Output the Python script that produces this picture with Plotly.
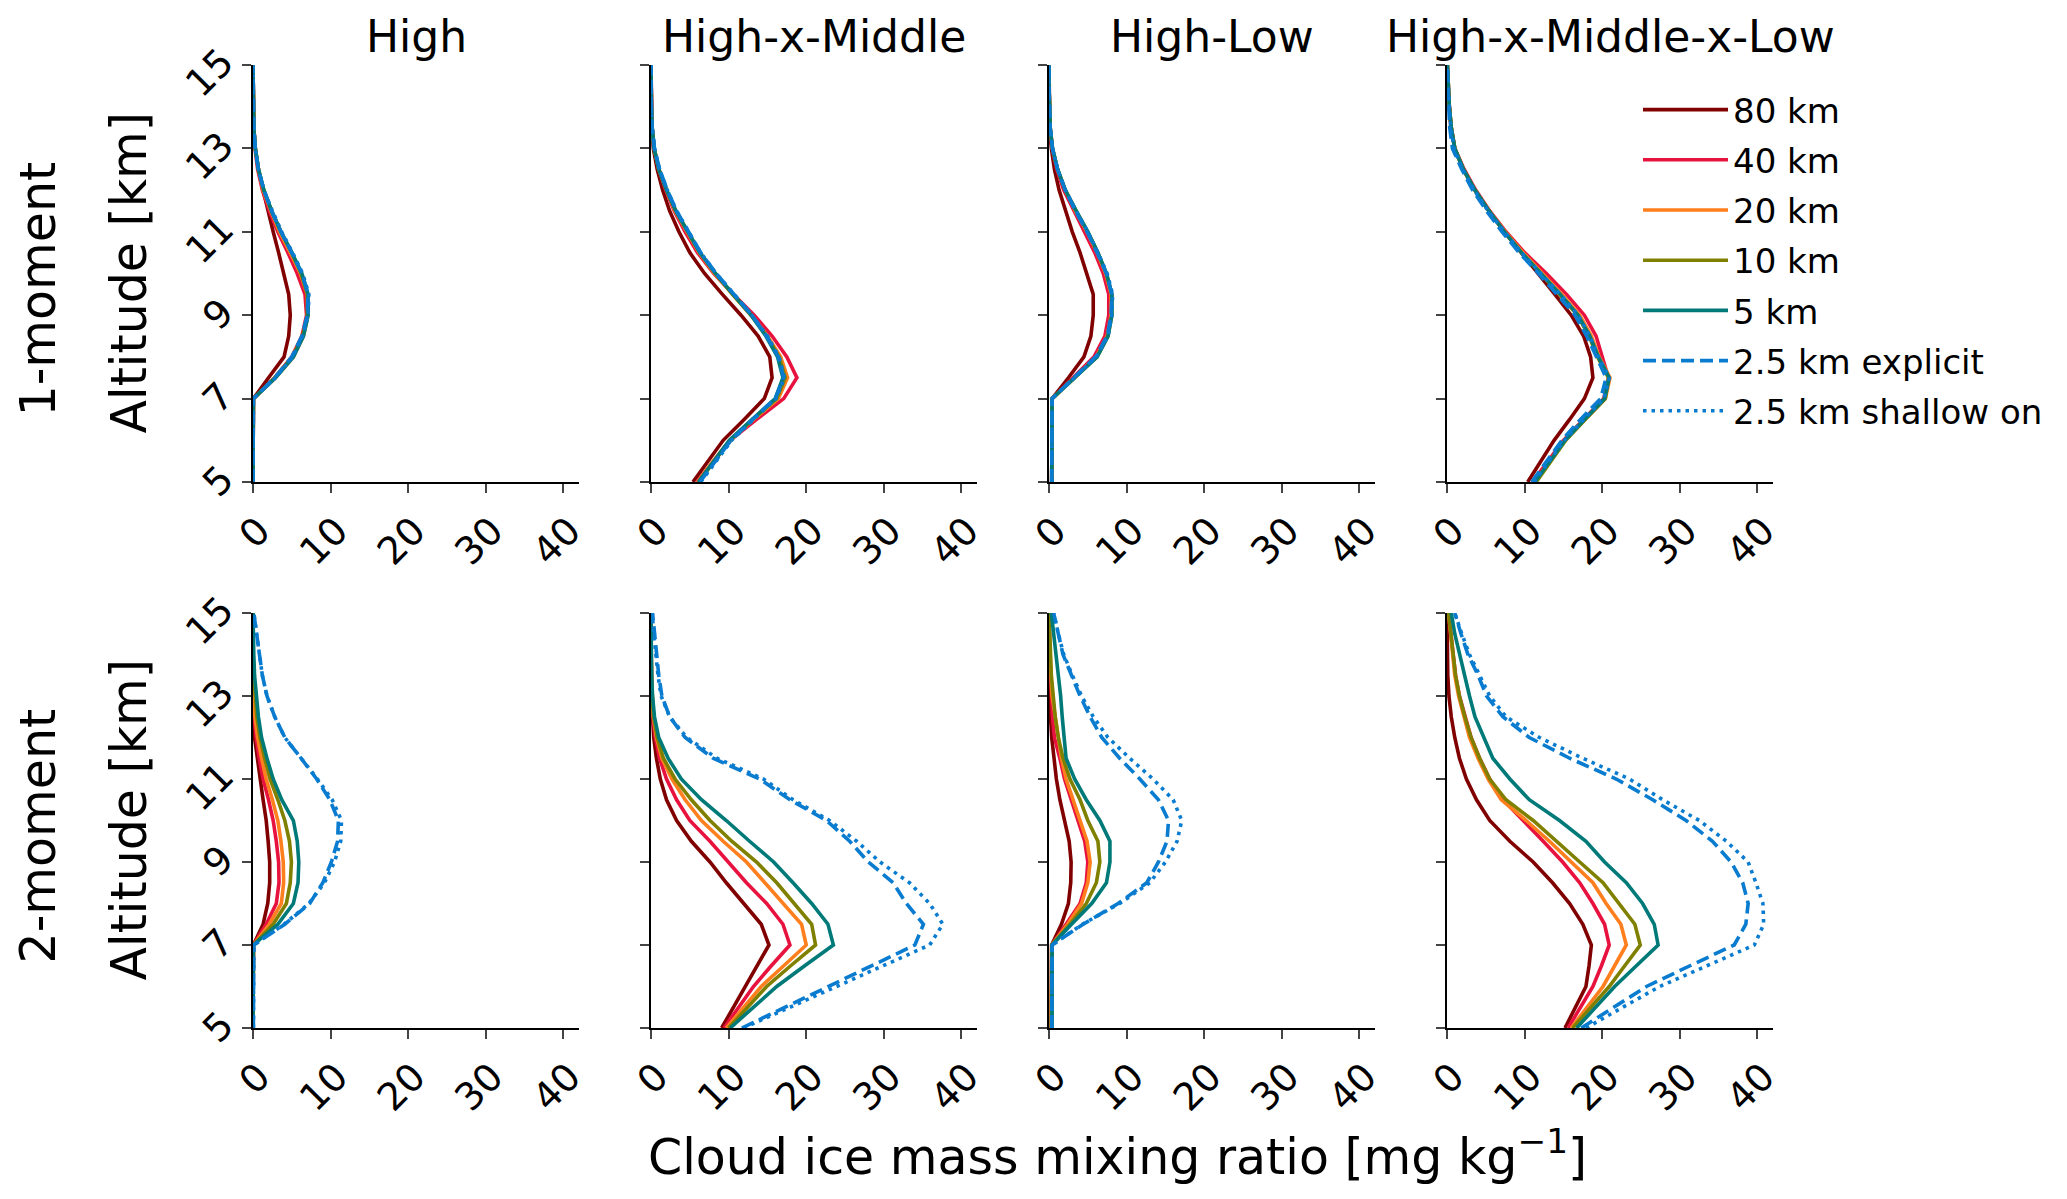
import plotly.graph_objects as go
from plotly.subplots import make_subplots

# altitude levels [km] shared by every profile
ALT = [5.0, 5.5, 6.0, 6.5, 7.0, 7.5, 8.0, 8.5, 9.0, 9.5, 10.0,
       10.5, 11.0, 11.5, 12.0, 12.5, 13.0, 13.5, 14.0, 14.5, 15.0]

SERIES = ["80 km", "40 km", "20 km", "10 km", "5 km", "2.5 km explicit", "2.5 km shallow on"]
COLUMNS = ["High", "High-x-Middle", "High-Low", "High-x-Middle-x-Low"]
ROWS = ["1-moment", "2-moment"]
X_TICKS = [0, 10, 20, 30, 40]
Y_TICKS = [5, 7, 9, 11, 13, 15]

# cloud ice [mg/kg], one list per series (order as SERIES), values at ALT
M1_HIGH = [
    [0, 0, 0, 0, 0.05, 2.0, 4.0, 4.6, 4.8, 4.6, 4.0, 3.3, 2.6, 1.9, 1.3, 0.7, 0.3, 0.1, 0.03, 0, 0],
    [0, 0, 0, 0, 0.05, 2.8, 5.0, 6.3, 6.9, 6.7, 5.7, 4.5, 3.2, 2.1, 1.2, 0.6, 0.25, 0.1, 0.03, 0, 0],
    [0, 0, 0, 0, 0.05, 2.9, 5.2, 6.5, 7.1, 7.0, 6.1, 4.8, 3.4, 2.3, 1.3, 0.7, 0.3, 0.1, 0.03, 0, 0],
    [0, 0, 0, 0, 0.05, 2.8, 5.1, 6.4, 7.0, 7.0, 6.2, 5.0, 3.6, 2.4, 1.4, 0.7, 0.3, 0.1, 0.03, 0, 0],
    [0, 0, 0, 0, 0.05, 2.9, 5.2, 6.5, 7.1, 7.1, 6.3, 5.0, 3.6, 2.4, 1.4, 0.7, 0.3, 0.1, 0.03, 0, 0],
    [0, 0, 0, 0, 0.05, 2.8, 5.0, 6.3, 7.0, 7.1, 6.3, 5.0, 3.6, 2.4, 1.4, 0.7, 0.3, 0.1, 0.03, 0, 0],
    [0, 0, 0, 0, 0.05, 2.9, 5.1, 6.4, 7.1, 7.2, 6.4, 5.1, 3.7, 2.5, 1.4, 0.7, 0.3, 0.1, 0.03, 0, 0],
]
M1_HXM = [
    [5.4, 7.3, 9.3, 12.0, 14.6, 15.6, 15.3, 13.8, 11.6, 9.2, 6.9, 5.0, 3.6, 2.4, 1.5, 0.8, 0.3, 0.12, 0.05, 0.02, 0],
    [5.9, 8.0, 10.2, 13.6, 17.1, 18.8, 17.5, 15.6, 13.3, 10.6, 8.1, 6.0, 4.4, 3.0, 1.9, 1.0, 0.4, 0.15, 0.05, 0.02, 0],
    [6.0, 8.0, 10.2, 13.2, 16.4, 17.6, 16.7, 15.0, 12.9, 10.5, 8.2, 6.2, 4.6, 3.1, 2.0, 1.0, 0.4, 0.15, 0.05, 0.02, 0],
    [6.1, 8.1, 10.2, 13.1, 16.2, 17.3, 16.5, 14.9, 12.9, 10.5, 8.3, 6.3, 4.7, 3.2, 2.0, 1.0, 0.4, 0.15, 0.05, 0.02, 0],
    [6.1, 8.1, 10.1, 13.0, 16.0, 17.0, 16.3, 14.8, 12.9, 10.6, 8.3, 6.3, 4.7, 3.2, 2.0, 1.0, 0.4, 0.15, 0.05, 0.02, 0],
    [6.3, 8.3, 10.3, 13.1, 16.0, 17.1, 16.4, 14.9, 13.0, 10.7, 8.4, 6.4, 4.8, 3.3, 2.1, 1.1, 0.45, 0.15, 0.05, 0.02, 0],
    [6.4, 8.4, 10.4, 13.2, 16.1, 17.2, 16.5, 15.0, 13.0, 10.7, 8.4, 6.4, 4.8, 3.3, 2.1, 1.1, 0.45, 0.15, 0.05, 0.02, 0],
]
M1_HL = [
    [0.35, 0.35, 0.35, 0.35, 0.4, 2.5, 4.5, 5.4, 5.7, 5.7, 4.9, 4.0, 3.0, 2.1, 1.3, 0.7, 0.3, 0.1, 0.03, 0, 0],
    [0.35, 0.35, 0.35, 0.35, 0.4, 3.1, 5.8, 7.2, 7.7, 7.7, 7.0, 5.9, 4.6, 3.2, 1.9, 1.0, 0.4, 0.15, 0.05, 0, 0],
    [0.35, 0.35, 0.35, 0.35, 0.4, 3.3, 6.1, 7.5, 8.0, 8.0, 7.3, 6.2, 4.9, 3.4, 2.1, 1.1, 0.45, 0.15, 0.05, 0, 0],
    [0.35, 0.35, 0.35, 0.35, 0.4, 3.3, 6.2, 7.6, 8.1, 8.1, 7.4, 6.3, 5.0, 3.5, 2.1, 1.1, 0.45, 0.15, 0.05, 0, 0],
    [0.35, 0.35, 0.35, 0.35, 0.4, 3.3, 6.2, 7.6, 8.1, 8.1, 7.4, 6.3, 5.0, 3.5, 2.1, 1.1, 0.45, 0.15, 0.05, 0, 0],
    [0.35, 0.35, 0.35, 0.35, 0.4, 3.2, 6.0, 7.5, 8.0, 8.1, 7.4, 6.2, 4.9, 3.4, 2.1, 1.1, 0.45, 0.15, 0.05, 0, 0],
    [0.35, 0.35, 0.35, 0.35, 0.4, 3.3, 6.1, 7.6, 8.1, 8.2, 7.5, 6.3, 5.0, 3.5, 2.1, 1.1, 0.45, 0.15, 0.05, 0, 0],
]
M1_HXMXL = [
    [10.4, 12.1, 13.8, 15.8, 17.7, 18.8, 18.5, 17.6, 16.0, 13.9, 11.7, 9.5, 7.4, 5.4, 3.6, 2.1, 1.0, 0.5, 0.25, 0.1, 0],
    [11.0, 13.0, 15.0, 17.6, 20.2, 20.8, 20.0, 19.2, 17.7, 15.4, 12.8, 10.0, 7.6, 5.5, 3.7, 2.2, 1.0, 0.55, 0.3, 0.15, 0.05],
    [11.3, 13.2, 15.2, 17.8, 20.4, 21.0, 19.6, 18.6, 17.1, 14.8, 12.3, 9.8, 7.5, 5.4, 3.6, 2.1, 1.0, 0.55, 0.3, 0.15, 0.05],
    [11.5, 13.4, 15.3, 17.8, 20.4, 20.8, 19.4, 18.3, 16.8, 14.5, 12.0, 9.6, 7.4, 5.4, 3.6, 2.1, 1.0, 0.55, 0.3, 0.15, 0.05],
    [11.3, 13.3, 15.2, 17.7, 20.3, 20.9, 19.5, 18.4, 16.9, 14.6, 12.1, 9.6, 7.4, 5.4, 3.6, 2.1, 1.0, 0.55, 0.3, 0.15, 0.05],
    [10.9, 12.8, 14.8, 17.2, 19.8, 20.5, 19.2, 18.0, 16.5, 14.2, 11.8, 9.3, 7.1, 5.1, 3.3, 1.9, 0.7, 0.35, 0.2, 0.1, 0.05],
    [11.2, 13.2, 15.1, 17.6, 20.2, 20.9, 19.5, 18.4, 16.9, 14.6, 12.1, 9.6, 7.4, 5.3, 3.5, 2.0, 0.9, 0.5, 0.3, 0.15, 0.05],
]
M2_HIGH = [
    [0, 0, 0, 0, 0.05, 1.3, 1.9, 2.15, 2.15, 1.95, 1.7, 1.3, 0.9, 0.5, 0.2, 0.08, 0.03, 0, 0, 0, 0],
    [0, 0, 0, 0, 0.05, 1.7, 3.0, 3.35, 3.3, 3.0, 2.6, 2.0, 1.3, 0.8, 0.4, 0.15, 0.05, 0, 0, 0, 0],
    [0, 0, 0, 0, 0.05, 2.1, 3.65, 3.95, 3.9, 3.6, 3.2, 2.5, 1.7, 1.1, 0.6, 0.25, 0.1, 0.03, 0, 0, 0],
    [0, 0, 0, 0, 0.05, 2.6, 4.3, 4.8, 4.95, 4.7, 4.1, 3.2, 2.2, 1.5, 0.9, 0.5, 0.3, 0.1, 0.03, 0, 0],
    [0, 0, 0, 0, 0.05, 3.2, 5.2, 5.8, 5.9, 5.7, 5.2, 3.7, 2.6, 1.8, 1.1, 0.7, 0.4, 0.2, 0.1, 0.03, 0],
    [0.05, 0.05, 0.05, 0.05, 0.1, 4.1, 7.3, 9.0, 10.1, 10.9, 11.0, 9.9, 8.2, 6.2, 4.1, 2.8, 1.8, 1.2, 0.8, 0.4, 0.1],
    [0.05, 0.05, 0.05, 0.05, 0.1, 4.0, 7.2, 9.2, 10.5, 11.3, 11.4, 10.2, 8.3, 6.2, 4.1, 2.8, 1.8, 1.2, 0.8, 0.4, 0.1],
]
M2_HXM = [
    [9.1, 10.6, 12.1, 13.7, 15.2, 14.2, 11.9, 9.7, 7.6, 5.2, 3.3, 2.0, 1.2, 0.7, 0.35, 0.15, 0.05, 0.02, 0, 0, 0],
    [9.4, 11.3, 13.2, 15.5, 17.9, 17.0, 14.9, 12.3, 10.0, 7.6, 5.0, 3.3, 2.0, 1.1, 0.55, 0.25, 0.1, 0.04, 0.02, 0, 0],
    [9.7, 12.0, 14.2, 17.1, 20.0, 19.4, 17.0, 14.7, 12.3, 9.3, 6.5, 4.4, 2.7, 1.4, 0.7, 0.3, 0.12, 0.05, 0.02, 0, 0],
    [10.0, 12.5, 14.9, 18.0, 21.2, 20.7, 18.5, 16.2, 13.6, 10.4, 7.6, 5.2, 3.1, 1.6, 0.8, 0.35, 0.15, 0.06, 0.02, 0, 0],
    [10.2, 13.2, 16.2, 19.8, 23.5, 22.8, 20.7, 18.3, 15.8, 12.7, 9.7, 6.5, 3.9, 2.2, 1.0, 0.45, 0.2, 0.08, 0.03, 0, 0],
    [11.7, 17.3, 23.0, 28.5, 34.0, 35.1, 32.9, 31.2, 28.0, 25.6, 22.6, 17.9, 14.0, 8.0, 4.4, 2.4, 1.4, 1.0, 0.7, 0.4, 0.2],
    [11.9, 17.9, 23.9, 29.9, 35.9, 37.6, 35.9, 33.3, 29.5, 26.5, 23.0, 18.3, 14.5, 8.5, 4.6, 2.4, 1.3, 0.9, 0.6, 0.35, 0.15],
]
M2_HL = [
    [0.3, 0.3, 0.3, 0.3, 0.35, 1.6, 2.5, 2.8, 2.85, 2.6, 2.0, 1.4, 0.95, 0.6, 0.35, 0.2, 0.1, 0.05, 0.02, 0, 0],
    [0.3, 0.3, 0.3, 0.3, 0.35, 2.2, 4.0, 4.8, 5.0, 4.6, 3.75, 2.9, 2.0, 1.4, 0.7, 0.45, 0.3, 0.2, 0.1, 0.05, 0],
    [0.3, 0.3, 0.3, 0.3, 0.35, 2.4, 4.2, 5.0, 5.3, 4.9, 4.0, 3.1, 2.2, 1.6, 1.2, 0.8, 0.4, 0.25, 0.1, 0.05, 0],
    [0.3, 0.3, 0.3, 0.3, 0.35, 2.7, 4.8, 6.1, 6.55, 6.3, 5.0, 4.0, 2.7, 1.8, 1.2, 0.8, 0.5, 0.3, 0.2, 0.1, 0],
    [0.4, 0.4, 0.4, 0.4, 0.4, 2.9, 5.5, 7.4, 7.85, 7.85, 6.55, 4.8, 3.3, 2.2, 1.9, 1.7, 1.5, 1.2, 0.9, 0.6, 0.3],
    [0.35, 0.35, 0.35, 0.35, 0.4, 4.4, 8.9, 12.6, 14.1, 15.2, 15.4, 14.1, 11.7, 9.1, 6.8, 5.3, 4.0, 2.9, 1.8, 1.2, 0.6],
    [0.35, 0.35, 0.35, 0.35, 0.4, 4.3, 9.1, 13.0, 15.0, 16.5, 17.1, 16.0, 13.4, 10.4, 7.6, 5.7, 4.2, 3.0, 1.9, 1.2, 0.6],
]
M2_HXMXL = [
    [15.2, 16.6, 17.9, 18.3, 18.6, 17.5, 15.8, 13.6, 11.1, 8.1, 5.5, 3.8, 2.5, 1.6, 1.0, 0.55, 0.25, 0.1, 0.05, 0.02, 0],
    [15.6, 17.2, 18.8, 19.9, 20.9, 20.3, 18.8, 17.1, 14.9, 12.4, 9.8, 7.2, 5.5, 4.2, 3.1, 2.3, 1.6, 1.1, 0.8, 0.4, 0.2],
    [16.0, 18.0, 20.1, 21.6, 23.1, 22.4, 20.5, 18.8, 16.0, 13.2, 10.2, 7.0, 5.3, 4.0, 2.9, 2.2, 1.5, 1.0, 0.7, 0.4, 0.2],
    [16.2, 18.5, 20.9, 22.9, 24.9, 24.2, 22.2, 20.1, 17.1, 14.1, 11.1, 7.6, 5.5, 4.2, 3.1, 2.3, 1.6, 1.1, 0.8, 0.4, 0.2],
    [16.7, 19.1, 21.6, 24.4, 27.2, 26.7, 25.2, 23.1, 20.3, 17.9, 14.5, 10.6, 8.1, 5.9, 4.8, 3.6, 2.9, 2.3, 1.6, 1.0, 0.55],
    [17.3, 21.5, 25.7, 31.3, 37.0, 38.5, 38.8, 38.1, 36.6, 34.2, 30.8, 26.5, 21.8, 15.8, 10.6, 7.2, 5.1, 4.0, 2.7, 1.8, 1.0],
    [17.9, 22.6, 27.4, 33.5, 39.6, 40.8, 40.7, 39.8, 38.8, 36.0, 32.5, 27.8, 23.5, 17.5, 11.9, 7.6, 5.5, 4.2, 2.9, 1.9, 1.0],
]

PANELS = [[M1_HIGH, M1_HXM, M1_HL, M1_HXMXL],
          [M2_HIGH, M2_HXM, M2_HL, M2_HXMXL]]

COLORS = ["#800000", "#e8123f", "#ff7f1e", "#808000", "#007a78", "#0a7cd0", "#0a7cd0"]
DASHES = ["solid", "solid", "solid", "solid", "solid", "13px,6px", "3.5px,5px"]

# the page puts an 8 px body margin round the figure, so the figure is the
# window minus that margin and every screen position is shifted by it
PAD = 8
W, H = 2067 - 2 * PAD, 1199 - 2 * PAD
FONT = "DejaVu Sans"
INK = "#000000"


def px(x):
    return (x - PAD) / W


def py(y):
    return 1 - (y - PAD) / H


# panel boxes in screen pixels (left, right) and (top, bottom)
COL_PX = [(253, 579), (651, 977), (1049, 1375), (1447, 1773)]
ROW_PX = [(65, 482), (613, 1028)]

fig = make_subplots(rows=2, cols=4)

for r in range(2):
    for c in range(4):
        for k, name in enumerate(SERIES):
            fig.add_trace(go.Scatter(
                x=PANELS[r][c][k], y=ALT, mode="lines", name=name,
                line=dict(color=COLORS[k], width=3.6, dash=DASHES[k]),
                showlegend=(r == 0 and c == 0), legendgroup=name,
            ), row=r + 1, col=c + 1)
        x0, x1 = COL_PX[c]
        t, b = ROW_PX[r]
        fig.update_xaxes(
            domain=[px(x0), px(x1)], range=[0, 42], tickvals=X_TICKS,
            tickangle=-45, ticklabelshift=6, ticks="outside", ticklen=9, tickwidth=2,
            showline=True, linecolor=INK, linewidth=2, showgrid=False, zeroline=False,
            tickfont=dict(family=FONT, size=38, color=INK), row=r + 1, col=c + 1,
        )
        fig.update_yaxes(
            domain=[py(b), py(t)], range=[5, 15], tickvals=Y_TICKS,
            tickangle=-45, ticklabelshift=-8, ticklabelstandoff=12,
            ticks="outside", ticklen=9, tickwidth=2,
            showticklabels=(c == 0),
            showline=True, linecolor=INK, linewidth=2, showgrid=False, zeroline=False,
            tickfont=dict(family=FONT, size=38, color=INK), row=r + 1, col=c + 1,
        )

annotations = []
for c, title in enumerate(COLUMNS):
    annotations.append(dict(
        text=title, x=px((COL_PX[c][0] + COL_PX[c][1]) / 2), y=py(36),
        xref="paper", yref="paper", showarrow=False, xanchor="center", yanchor="middle",
        font=dict(family=FONT, size=44, color=INK),
    ))
for r, label in enumerate(ROWS):
    mid = (ROW_PX[r][0] + ROW_PX[r][1]) / 2
    annotations.append(dict(
        text=label, x=px(38), y=py(mid + 16), textangle=-90,
        xref="paper", yref="paper", showarrow=False, xanchor="center", yanchor="middle",
        font=dict(family=FONT, size=49, color=INK),
    ))
    annotations.append(dict(
        text="Altitude [km]", x=px(129), y=py(mid), textangle=-90,
        xref="paper", yref="paper", showarrow=False, xanchor="center", yanchor="middle",
        font=dict(family=FONT, size=49, color=INK),
    ))
annotations.append(dict(
    text="Cloud ice mass mixing ratio [mg kg<sup>−1</sup>]", x=px(1117), y=py(1153),
    xref="paper", yref="paper", showarrow=False, xanchor="center", yanchor="middle",
    font=dict(family=FONT, size=49, color=INK),
))

fig.update_layout(
    width=W, height=H, template="none",
    paper_bgcolor="white", plot_bgcolor="white",
    margin=dict(l=0, r=0, t=0, b=0),
    font=dict(family=FONT, size=34, color=INK),
    annotations=annotations,
    legend=dict(
        x=px(1638), y=py(81), xanchor="left", yanchor="top",
        font=dict(family=FONT, size=34, color=INK),
        bgcolor="rgba(0,0,0,0)", tracegroupgap=3, itemwidth=85,
    ),
)

fig.write_html("out.html")
